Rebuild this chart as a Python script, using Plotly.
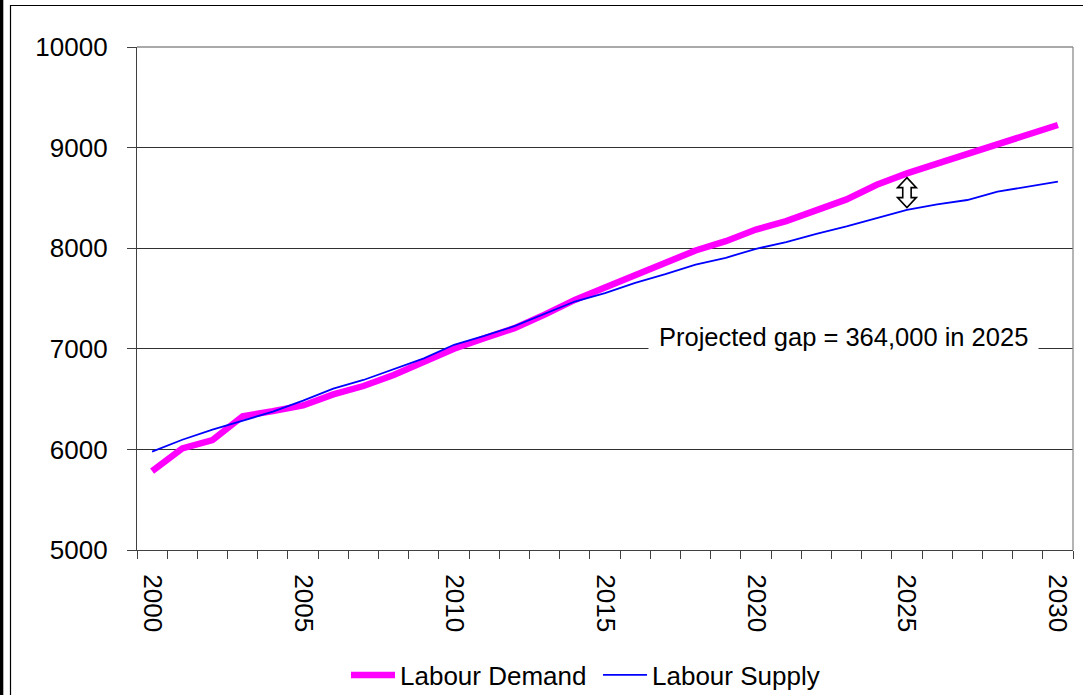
import plotly.graph_objects as go

# Labour market projection, thousands of persons
years = list(range(2000, 2031))
labour_demand = [5784, 6010, 6092, 6330, 6380, 6437, 6547, 6630, 6740, 6870,
                 7000, 7105, 7205, 7340, 7486, 7610, 7734, 7850, 7977, 8070,
                 8185, 8270, 8370, 8485, 8630, 8744, 8840, 8935, 9040, 9135,
                 9225]
labour_supply = [5978, 6096, 6196, 6285, 6375, 6485, 6605, 6690, 6800, 6905,
                 7040, 7128, 7225, 7350, 7470, 7553, 7655, 7742, 7837, 7905,
                 7994, 8060, 8143, 8216, 8300, 8380, 8436, 8479, 8562, 8612,
                 8661]
tick_years = [2000, 2005, 2010, 2015, 2020, 2025, 2030]
gap_year = 2025
gap_text = "Projected gap = 364,000 in 2025"

FONT = "Liberation Sans, Arial, sans-serif"
W, H = 1083, 695
ML, MR, MT, MB = 137, 10, 47, 145
PW, PH = W - ML - MR, H - MT - MB

fig = go.Figure()
fig.add_trace(go.Scatter(
    x=years, y=labour_demand, name="Labour Demand", mode="lines",
    line=dict(color="#FF00FF", width=6.5),
))
fig.add_trace(go.Scatter(
    x=years, y=labour_supply, name="Labour Supply", mode="lines",
    line=dict(color="#0000FF", width=1.8),
))

x_range = [years[0] - 0.5, years[-1] + 0.5]
y_range = [5000, 10000]

# Hollow double-headed arrow between the two series at the gap year
i = years.index(gap_year)
px_per_x = PW / (x_range[1] - x_range[0])
px_per_y = PH / (y_range[1] - y_range[0])
top = labour_demand[i] - 4.3 / px_per_y
bot = labour_supply[i] + 2.3 / px_per_y
head_h = 10 / px_per_y
head_w = 9.4 / px_per_x
shaft_w = 4.2 / px_per_x
xc = gap_year
arrow_path = (
    f"M {xc},{top} L {xc + head_w},{top - head_h} L {xc + shaft_w},{top - head_h} "
    f"L {xc + shaft_w},{bot + head_h} L {xc + head_w},{bot + head_h} L {xc},{bot} "
    f"L {xc - head_w},{bot + head_h} L {xc - shaft_w},{bot + head_h} "
    f"L {xc - shaft_w},{top - head_h} L {xc - head_w},{top - head_h} Z"
)


def px_x(p):
    return (p - ML) / PW


def px_y(p):
    return (H - MB - p) / PH


shapes = [
    # plot-area frame (top and right)
    dict(type="line", xref="paper", yref="paper", x0=0, x1=1, y0=1, y1=1,
         line=dict(color="#8C8C8C", width=1.3), layer="above"),
    dict(type="line", xref="paper", yref="paper", x0=1, x1=1, y0=0, y1=1,
         line=dict(color="#8C8C8C", width=1.3), layer="above"),
    # chart-area frame
    dict(type="rect", xref="paper", yref="paper",
         x0=px_x(10.5), x1=px_x(W + 20), y0=px_y(H + 20), y1=px_y(5.5),
         line=dict(color="black", width=1.2), layer="above"),
    dict(type="rect", xref="paper", yref="paper",
         x0=px_x(-1), x1=px_x(3.3), y0=px_y(H + 20), y1=px_y(-20),
         line=dict(width=0), fillcolor="black", layer="above"),
    dict(type="path", xref="x", yref="y", path=arrow_path,
         line=dict(color="black", width=1.6), fillcolor="white", layer="above"),
]

fig.update_layout(
    width=W, height=H,
    margin=dict(l=ML, r=MR, t=MT, b=MB, autoexpand=False),
    paper_bgcolor="white", plot_bgcolor="white",
    font=dict(family=FONT, size=26, color="black"),
    showlegend=True,
    legend=dict(
        orientation="h", x=px_x(346), xanchor="left",
        y=px_y(675), yanchor="middle",
        font=dict(family=FONT, size=26, color="black"),
        bgcolor="rgba(0,0,0,0)", itemwidth=44, entrywidth=193,
    ),
    xaxis=dict(
        range=x_range, tickmode="array", tickvals=tick_years,
        ticktext=[str(t) for t in tick_years], tickangle=90,
        ticks="outside", ticklen=8, tickcolor="rgba(0,0,0,0)",
        ticklabelstandoff=10,
        showgrid=False, zeroline=False,
        showline=True, linecolor="#404040", linewidth=1.3,
        tickfont=dict(family=FONT, size=26, color="black"),
        minor=dict(tick0=x_range[0], dtick=1, ticks="outside", ticklen=8,
                   tickcolor="#404040", tickwidth=1.3, showgrid=False),
    ),
    yaxis=dict(
        range=y_range, tick0=5000, dtick=1000, tickformat="d",
        ticks="outside", ticklen=9, tickcolor="#404040", tickwidth=1.3,
        ticklabelstandoff=14,
        showgrid=True, gridcolor="#303030", gridwidth=1,
        zeroline=False,
        showline=True, linecolor="#404040", linewidth=1.3,
        tickfont=dict(family=FONT, size=26, color="black"),
    ),
    shapes=shapes,
    annotations=[dict(
        xref="paper", yref="paper", x=px_x(843.5), y=px_y(337),
        xanchor="center", yanchor="middle", showarrow=False,
        text=gap_text, font=dict(family=FONT, size=25.5, color="black"),
        bgcolor="white", borderpad=10, borderwidth=1, bordercolor="rgba(0,0,0,0)",
    )],
)

fig.write_html("out.html")
